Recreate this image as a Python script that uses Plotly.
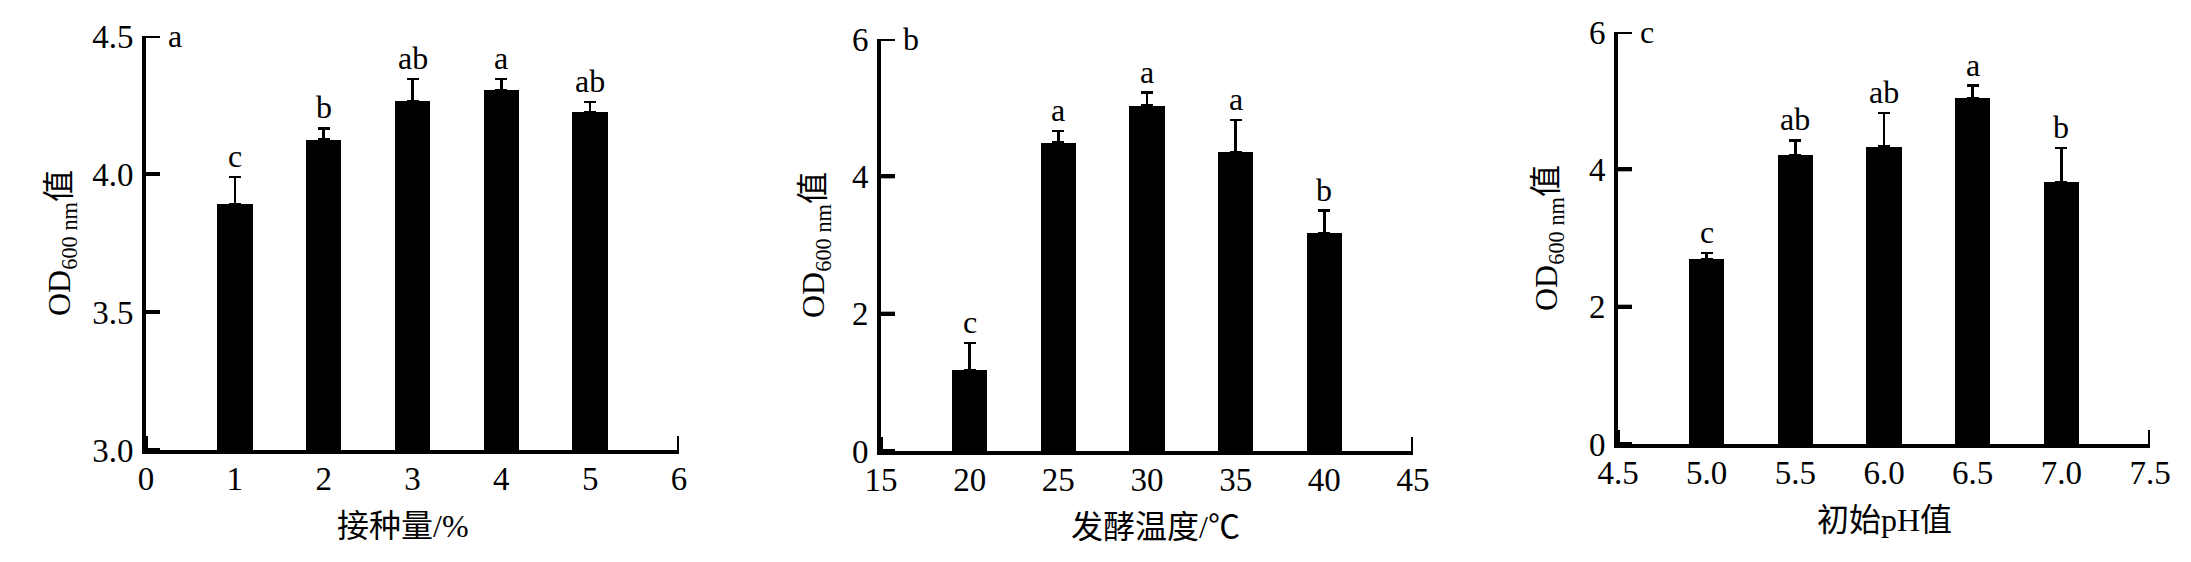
import plotly.graph_objects as go
from plotly.subplots import make_subplots

# a: 接种量
inoculum = [1, 2, 3, 4, 5]
od_inoculum = [3.89, 4.125, 4.264, 4.304, 4.223]
err_inoculum = [0.10, 0.04, 0.08, 0.04, 0.037]
sig_inoculum = ["c", "b", "ab", "a", "ab"]

# b: 发酵温度
temps = [20, 25, 30, 35, 40]
od_temp = [1.18, 4.49, 5.03, 4.35, 3.17]
err_temp = [0.39, 0.17, 0.19, 0.47, 0.33]
sig_temp = ["c", "a", "a", "a", "b"]

# c: 初始pH
ph = [5.0, 5.5, 6.0, 6.5, 7.0]
od_ph = [2.69, 4.21, 4.33, 5.04, 3.81]
err_ph = [0.09, 0.21, 0.49, 0.18, 0.50]
sig_ph = ["c", "ab", "ab", "a", "b"]

# деления осей
x_tickvals = [
    [0, 1, 2, 3, 4, 5, 6],
    [15, 20, 25, 30, 35, 40, 45],
    [4.5, 5.0, 5.5, 6.0, 6.5, 7.0, 7.5],
]
y_tickvals = [
    [3.0, 3.5, 4.0, 4.5],
    [0, 2, 4, 6],
    [0, 2, 4, 6],
]

FONT = "Liberation Serif, 'Noto Sans CJK SC', serif"
W, H = 2191, 562
OFF = 8  # отступ body в html
TICK_LEN = 14


def add_panel(fig, col, x, y, err, sig, bar_w, panel, x_title, x_title_shift, y_title_shift):
    """
    Один столбчатый график с односторонними ошибками и буквами
    """
    fig.add_trace(
        go.Bar(
            x=x,
            y=y,
            width=bar_w,
            marker=dict(color="black", line=dict(width=0)),
            error_y=dict(
                type="data",
                symmetric=False,
                array=err,
                arrayminus=[0] * len(err),
                color="black",
                thickness=2.5,
                width=6,
            ),
            showlegend=False,
        ),
        row=1,
        col=col,
    )

    xr = "x" if col == 1 else f"x{col}"
    yr = "y" if col == 1 else f"y{col}"

    for xi, yi, ei, s in zip(x, y, err, sig):
        fig.add_annotation(
            x=xi, y=yi + ei, xref=xr, yref=yr, text=s, showarrow=False,
            yanchor="bottom", yshift=1, font=dict(size=32),
        )

    # буква панели
    fig.add_annotation(
        x=0, y=1, xref=f"{xr} domain", yref=f"{yr} domain", text=panel,
        showarrow=False, xanchor="left", yanchor="middle", xshift=20, yshift=0,
        font=dict(size=32),
    )
    # подписи осей
    fig.add_annotation(
        x=0.5, y=0, xref=f"{xr} domain", yref=f"{yr} domain", text=x_title,
        showarrow=False, yanchor="middle", xshift=x_title_shift, yshift=-76,
        font=dict(size=32),
    )
    fig.add_annotation(
        x=0, y=0.5, xref=f"{xr} domain", yref=f"{yr} domain",
        text="OD<sub>600 nm</sub>值", textangle=-90, showarrow=False,
        xanchor="center", xshift=-y_title_shift, font=dict(size=32),
    )


def add_inner_ticks(fig, col, xticks, yticks, x0, y0):
    """
    Засечки внутрь (штатные inside-засечки здесь не рисуются)
    """
    xr = "x" if col == 1 else f"x{col}"
    yr = "y" if col == 1 else f"y{col}"
    for v in yticks:
        fig.add_shape(
            type="line", xref=xr, yref=yr, xsizemode="pixel", xanchor=x0,
            x0=0, x1=TICK_LEN, y0=v, y1=v, layer="above",
            line=dict(color="black", width=4),
        )
    for v in xticks:
        fig.add_shape(
            type="line", xref=xr, yref=yr, ysizemode="pixel", yanchor=y0,
            y0=0, y1=TICK_LEN, x0=v, x1=v, layer="above",
            line=dict(color="black", width=4),
        )


fig = make_subplots(rows=1, cols=3)

add_panel(fig, 1, inoculum, od_inoculum, err_inoculum, sig_inoculum, 0.4, "a", "接种量/%", -10, 85)
add_panel(fig, 2, temps, od_temp, err_temp, sig_temp, 2.0, "b", "发酵温度/℃", 8, 66)
add_panel(fig, 3, ph, od_ph, err_ph, sig_ph, 0.2, "c", "初始pH值", 0, 70)

# домены в пикселях страницы
x_px = [(146, 679), (881, 1413), (1618, 2150)]
y_px = [(36, 450), (39, 451), (32, 444)]
x_fmt = ["d", "d", ".1f"]
y_fmt = [".1f", "d", "d"]

axis_style = dict(
    showline=True,
    linecolor="black",
    linewidth=4,
    ticks="inside",
    ticklen=TICK_LEN,
    tickwidth=4,
    tickcolor="black",
    layer="above traces",
    showgrid=False,
    zeroline=False,
    automargin=False,
    tickfont=dict(size=33, color="black"),
    fixedrange=True,
)

for i in range(3):
    x_range = [x_tickvals[i][0], x_tickvals[i][-1]]
    y_range = [y_tickvals[i][0], y_tickvals[i][-1]]
    fig.update_xaxes(
        axis_style,
        domain=[(x_px[i][0] - OFF) / W, (x_px[i][1] - OFF) / W],
        range=x_range,
        tickvals=x_tickvals[i],
        tickformat=x_fmt[i],
        ticklabelstandoff=-4,
        row=1,
        col=i + 1,
    )
    fig.update_yaxes(
        axis_style,
        domain=[1 - (y_px[i][1] - OFF) / H, 1 - (y_px[i][0] - OFF) / H],
        range=y_range,
        tickvals=y_tickvals[i],
        tickformat=y_fmt[i],
        ticklabelstandoff=2,
        row=1,
        col=i + 1,
    )
    add_inner_ticks(fig, i + 1, x_tickvals[i], y_tickvals[i], x_range[0], y_range[0])

fig.update_layout(
    template="none",
    width=W,
    height=H,
    margin=dict(l=0, r=0, t=0, b=0, pad=0, autoexpand=False),
    paper_bgcolor="white",
    plot_bgcolor="rgba(0,0,0,0)",
    font=dict(family=FONT, color="black"),
    bargap=0,
)

fig.write_html("out.html", config={"displayModeBar": False})
